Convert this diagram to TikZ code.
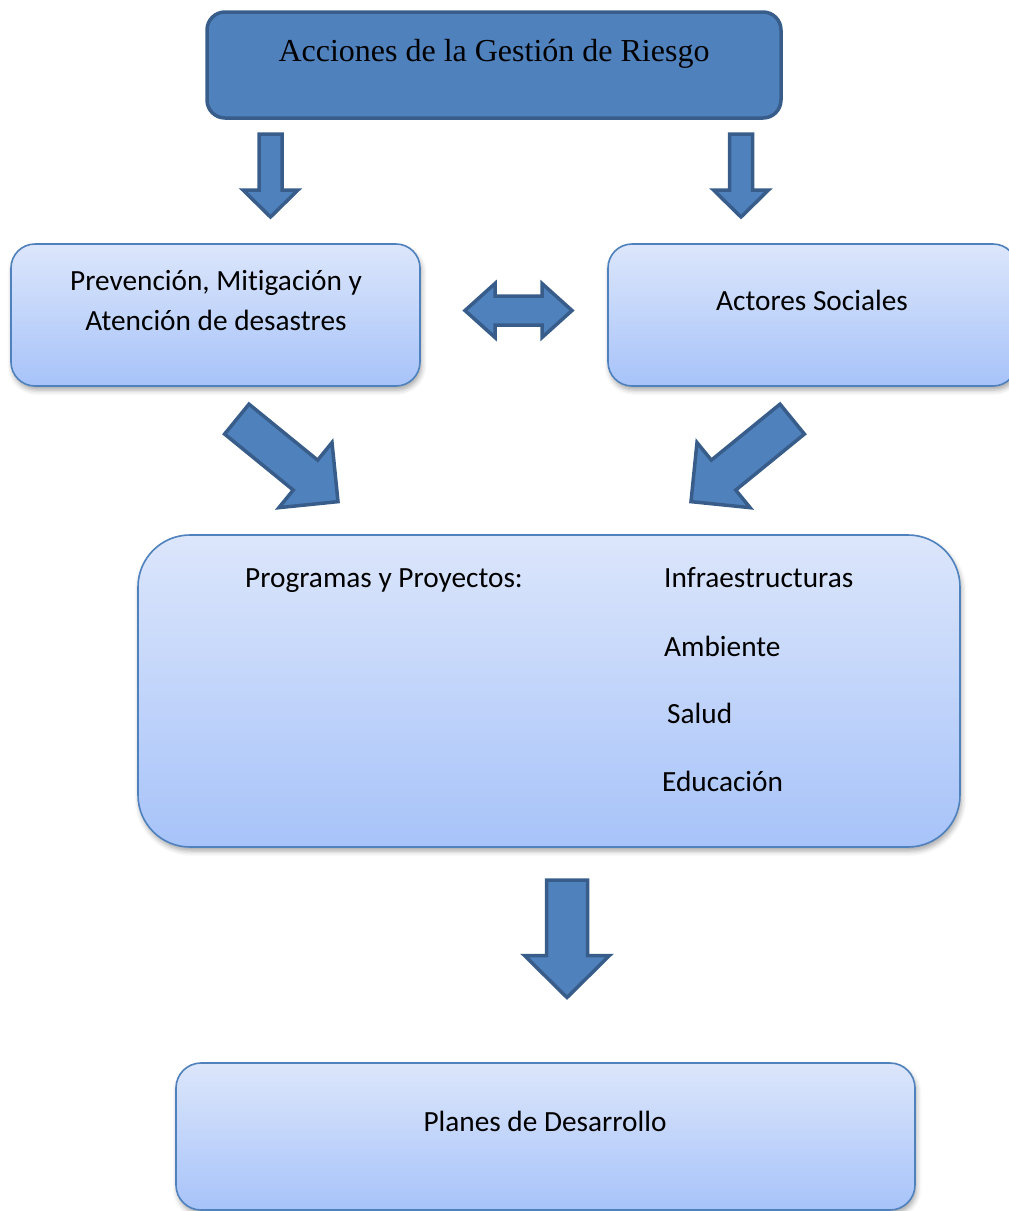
\documentclass[tikz,border=0pt]{standalone}
\usepackage{fontspec}
\setmainfont{Carlito}[Ligatures=NoCommon]
\newfontfamily\titlefont{Liberation Serif}
\usetikzlibrary{shadows.blur}

\definecolor{darkfill}{HTML}{4F81BD}
\definecolor{darkedge}{HTML}{385D8A}
\definecolor{paletop}{HTML}{DCE6FB}
\definecolor{palebottom}{HTML}{A7C3F9}
\newcommand\bodysize{\fontsize{29.3}{36}\selectfont}

\tikzset{
	palebox/.style={draw=darkfill, line width=1.6pt, top color=paletop, bottom color=palebottom,
		blur shadow={shadow xshift=1.5pt, shadow yshift=-4pt, shadow blur radius=5pt, shadow opacity=35}},
	darkbox/.style={draw=darkedge, fill=darkfill, line width=3.5pt},
	boxtext/.style={font=\bodysize, inner sep=0pt, anchor=base},
	arrowbody/.style={draw=darkedge, fill=darkfill, line width=3.5pt, line join=miter},
	pics/fatarrow/.style n args={4}{code={
		\path[arrowbody] (0,#2) -- ({#1-#4},#2) -- ({#1-#4},#3) -- (#1,0)
			-- ({#1-#4},-#3) -- ({#1-#4},-#2) -- (0,-#2) -- cycle;}},
	pics/twowayarrow/.style n args={4}{code={
		\path[arrowbody] (0,0) -- (#4,#3) -- (#4,#2) -- ({#1-#4},#2) -- ({#1-#4},#3) -- (#1,0)
			-- ({#1-#4},-#3) -- ({#1-#4},-#2) -- (#4,-#2) -- (#4,-#3) -- cycle;}},
}

\begin{document}
\begin{tikzpicture}[x=1pt, y=-1pt]
			%%%%% FRAME %%%%%
			\useasboundingbox (0,0) rectangle (1009,1211);
			\clip (0,0) rectangle (1009,1211);
			
			%%%%% BOXES %%%%%
			\node[darkbox, minimum width=574pt, minimum height=106pt, rounded corners=18pt] (acciones) at (494,65) {};
			\node[font=\titlefont\fontsize{32}{38}\selectfont, inner sep=0pt, anchor=base] (accionestxt) at (494,61) {Acciones de la Gestión de Riesgo};
			
			\node[palebox, minimum width=409pt, minimum height=142pt, rounded corners=24pt] (prevencion) at (215.5,315) {};
			\node[boxtext] (prevtxta) at (216,290.5) {Prevención, Mitigación y};
			\node[boxtext] (prevtxtb) at (216,330.5) {Atención de desastres};
			
			\node[palebox, minimum width=409pt, minimum height=142pt, rounded corners=24pt] (actores) at (812.5,315) {};
			\node[boxtext] (actorestxt) at (812,310.5) {Actores Sociales};
			
			\node[palebox, minimum width=822pt, minimum height=312pt, rounded corners=52pt] (programas) at (549,691) {};
			\node[boxtext, anchor=base west] (programastxt) at (245,587.5) {Programas y Proyectos:};
			\node[boxtext, anchor=base west] (infra) at (664,587.5) {Infraestructuras};
			\node[boxtext, anchor=base west] (ambiente) at (664,656.5) {Ambiente};
			\node[boxtext, anchor=base west] (salud) at (667,723.5) {Salud};
			\node[boxtext, anchor=base west] (educacion) at (662,791.5) {Educación};
			
			\node[palebox, minimum width=739pt, minimum height=147pt, rounded corners=25pt] (planes) at (545.5,1136.5) {};
			\node[boxtext] (planestxt) at (545,1131.5) {Planes de Desarrollo};
			
			%%%%% ARROWS %%%%%
			\coordinate (downleft) at (270.5,134);
			\coordinate (downright) at (741,134);
			\coordinate (bothways) at (465,310.5);
			\coordinate (slantleft) at (236.8,419.1);
			\coordinate (slantright) at (792.2,419.1);
			\coordinate (downlast) at (567,880);
			
			\pic[rotate=-90] at (downleft) {fatarrow={83}{11.5}{27.5}{27}};
			\pic[rotate=-90] at (downright) {fatarrow={83}{11.5}{27.5}{27}};
			\pic at (bothways) {twowayarrow={107}{14.5}{27}{30}};
			\pic[rotate=-39.2] at (slantleft) {fatarrow={130.6}{19.3}{42}{42}};
			\pic[rotate=-140.8] at (slantright) {fatarrow={130.6}{19.3}{42}{42}};
			\pic[rotate=-90] at (downlast) {fatarrow={117.5}{20.5}{42.5}{42}};
			
\end{tikzpicture}
\end{document}
